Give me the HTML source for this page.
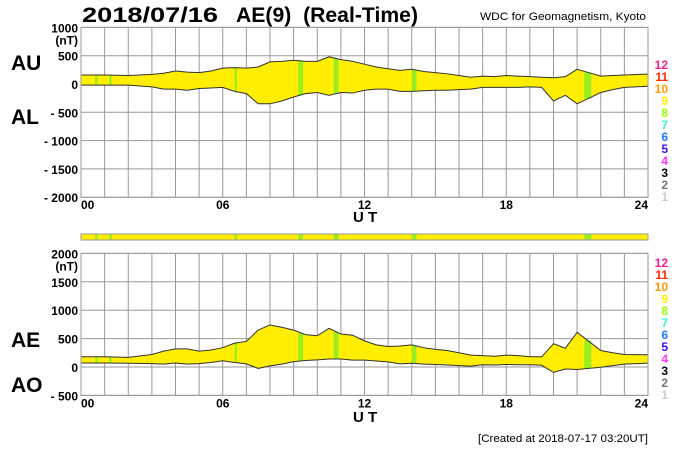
<!DOCTYPE html>
<html><head><meta charset="utf-8">
<style>
body{margin:0;background:#fff;}
svg{display:block;font-family:"Liberation Sans",sans-serif;}
</style></head>
<body>
<svg id="c" width="700" height="450" xmlns="http://www.w3.org/2000/svg">
<text x="82" y="22" font-size="21" font-weight="bold" textLength="136" lengthAdjust="spacingAndGlyphs">2018/07/16</text>
<text x="236" y="22" font-size="21" font-weight="bold" textLength="182" lengthAdjust="spacingAndGlyphs" xml:space="preserve">AE(9)  (Real-Time)</text>
<text x="480" y="20" font-size="11" textLength="166" lengthAdjust="spacingAndGlyphs">WDC for Geomagnetism, Kyoto</text>
<text x="11" y="70" font-size="21" font-weight="bold">AU</text>
<text x="11" y="124" font-size="21" font-weight="bold">AL</text>
<text x="11" y="347" font-size="21" font-weight="bold">AE</text>
<text x="11" y="392" font-size="21" font-weight="bold">AO</text>
<text x="353" y="222" font-size="15" font-weight="bold" xml:space="preserve">U T</text>
<text x="353" y="422" font-size="15" font-weight="bold" xml:space="preserve">U T</text>
<text x="478" y="442" font-size="11" textLength="170" lengthAdjust="spacingAndGlyphs">[Created at 2018-07-17 03:20UT]</text>
</svg>
<script>
const times=[0,1,2,3,3.5,4,4.5,5,5.5,6,6.5,7,7.5,8,8.5,9,9.5,10,10.5,11,11.5,12,12.5,13,13.5,14,14.5,15,15.5,16,16.5,17,17.5,18,18.5,19,19.5,20,20.5,21,21.5,22,22.5,23,24];
const auValues=[160,160,150,170,190,230,210,200,230,280,290,280,300,390,400,420,400,400,480,430,400,350,300,270,240,260,220,200,180,150,120,140,130,150,140,130,120,110,130,260,200,140,150,160,175];
const alValues=[-20,-20,-20,-50,-90,-90,-110,-80,-70,-60,-130,-170,-350,-350,-300,-230,-170,-150,-200,-150,-160,-110,-90,-90,-130,-130,-120,-110,-110,-100,-90,-60,-60,-60,-60,-50,-60,-300,-200,-350,-250,-150,-100,-60,-40];
const greenBands=[[0.6,0.7],[1.2,1.3],[6.5,6.6],[9.2,9.4],[10.7,10.9],[14.0,14.2],[21.3,21.6]];
const xTicks=['00','06','12','18','24'];
const topYTicks=[1000,500,0,-500,-1000,-1500,-2000];
const botYTicks=[2000,1500,1000,500,0,-500];
const legendLabels=['12','11','10','9','8','7','6','5','4','3','2','1'];
const legendColors=['#ff1a8c','#ff2a00','#ff9a00','#ffee00','#9aff00','#33ffcc','#1a7aff','#3311ff','#ff33ff','#000','#777','#ccc'];

const svg=document.getElementById('c');
const NS='http://www.w3.org/2000/svg';
const X0=81,X1=648;
const xs=t=>X0+(X1-X0)*t/24;
const yTop=v=>84-v*28.3/500;
const yBot=v=>367-v*28.4/500;
function mk(tag,at,parent){const e=document.createElementNS(NS,tag);for(const k in at)e.setAttribute(k,at[k]);(parent||svg).appendChild(e);return e;}

function panel(name,yf,ymax,ymin,ticks,lo,hi){
  const g=mk('g',{});
  
  
  for(let h=0;h<=24;h++){const l=mk('line',{x1:xs(h),x2:xs(h),y1:yf(ymax),y2:yf(ymin),stroke:'#999','stroke-width':1},g);
    }
  ticks.forEach(v=>{const l=mk('line',{x1:X0,x2:X1,y1:yf(v),y2:yf(v),stroke:'#999','stroke-width':1},g);
    
    const t=mk('text',{x:X0-3,y:yf(v)+5,'text-anchor':'end','font-size':12,'font-weight':'bold'},g);
    t.textContent=v<0?'- '+(-v):String(v);
    });
  const u=mk('text',{x:X0-3,y:yf(ticks[0])+17,'text-anchor':'end','font-size':12,'font-weight':'bold'},g);
  u.textContent='(nT)';
  let d='M'+times.map((t,i)=>xs(t)+','+yf(hi[i])).join('L');
  for(let i=times.length-1;i>=0;i--)d+='L'+xs(times[i])+','+yf(lo[i]);
  const p=mk('path',{d:d+'Z',fill:'#ffee00',stroke:'none'},g);
  
  const interp=(arr,t)=>{for(let i=1;i<times.length;i++)if(t<=times[i]){const f=(t-times[i-1])/(times[i]-times[i-1]);return arr[i-1]+f*(arr[i]-arr[i-1]);}return arr[arr.length-1];};
  greenBands.forEach(b=>{const tm=(b[0]+b[1])/2;const r=mk('rect',{x:xs(b[0]),width:xs(b[1])-xs(b[0]),y:yf(interp(hi,tm)),height:yf(interp(lo,tm))-yf(interp(hi,tm)),fill:'#99ee22'},g);
    });
  const l1=mk('polyline',{points:times.map((t,i)=>xs(t)+','+yf(hi[i])).join(' '),fill:'none',stroke:'#333','stroke-width':1},g);
  
  const l2=mk('polyline',{points:times.map((t,i)=>xs(t)+','+yf(lo[i])).join(' '),fill:'none',stroke:'#333','stroke-width':1},g);
  
  const fr=mk('rect',{x:X0,y:yf(ymax),width:X1-X0,height:yf(ymin)-yf(ymax),fill:'none',stroke:'#999'},g);
  
  xTicks.forEach((s,i)=>{const t=mk('text',{x:xs(i*6),y:yf(ymin)+12,'text-anchor':i==0?'start':(i==4?'end':'middle'),'font-size':12,'font-weight':'bold'},g);
    t.textContent=s;});
}
panel('au-al',yTop,1000,-2000,topYTicks,alValues,auValues);
const aeValues=auValues.map((v,i)=>v-alValues[i]);
const aoValues=auValues.map((v,i)=>(v+alValues[i])/2);
panel('ae-ao',yBot,2000,-500,botYTicks,aoValues,aeValues);

const strip=mk('rect',{x:X0,y:234,width:X1-X0,height:6,fill:'#ffee00',stroke:'#999'});

greenBands.forEach(b=>{const r=mk('rect',{x:xs(b[0]),y:234.5,width:xs(b[1])-xs(b[0]),height:5,fill:'#99ee22'});
  });

[61,259].forEach((y0,k)=>legendLabels.forEach((s,i)=>{const t=mk('text',{x:668,y:y0+8+i*12,'text-anchor':'end','font-size':12,'font-weight':'bold',fill:legendColors[i]});
  t.textContent=s;}));
</script>
</body></html>
